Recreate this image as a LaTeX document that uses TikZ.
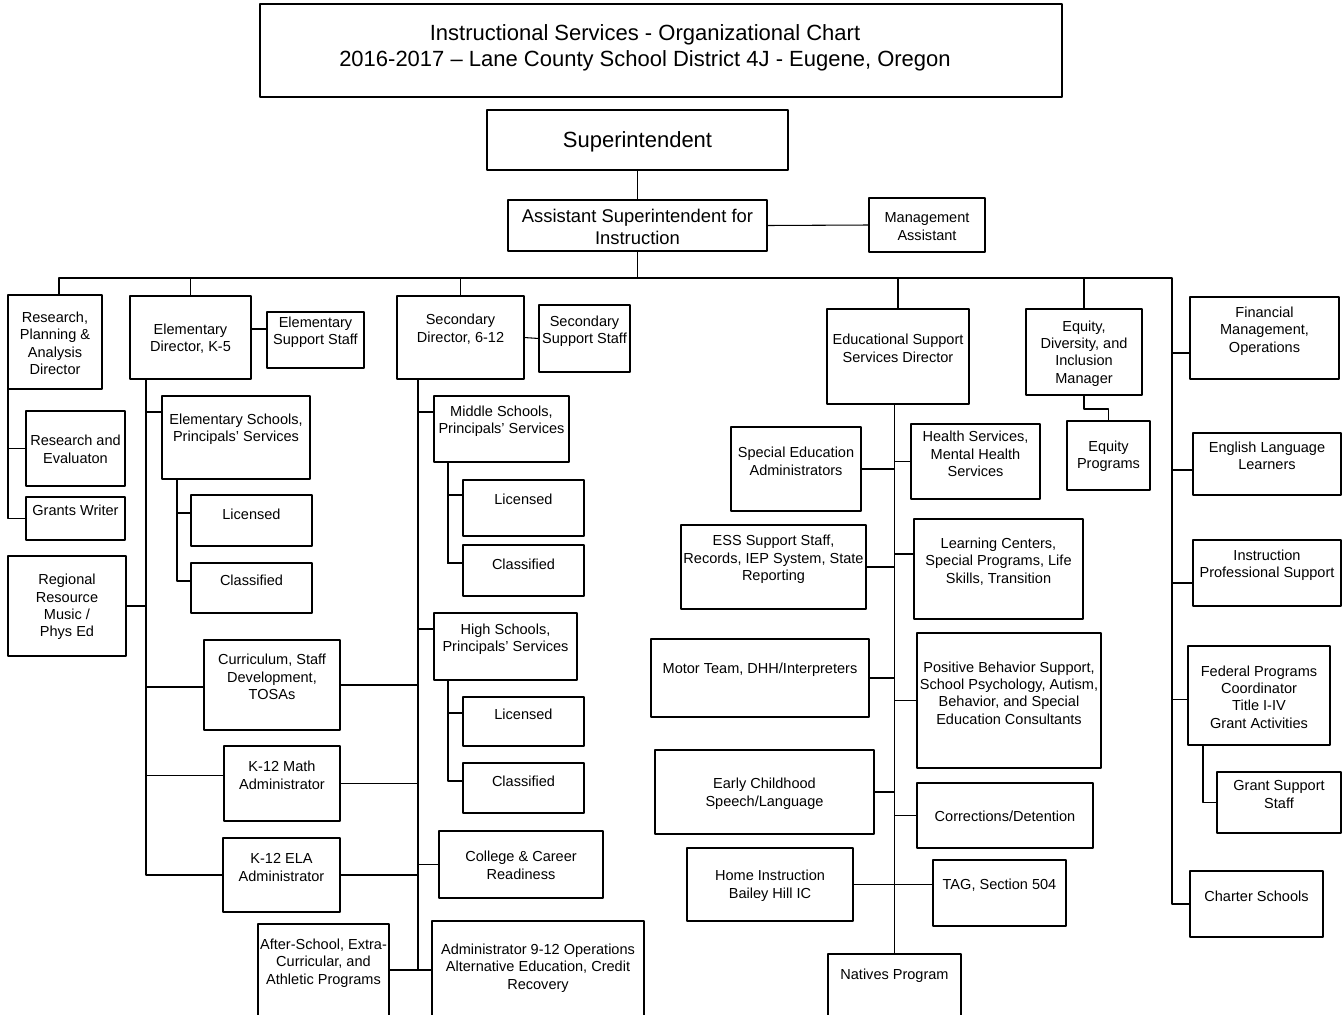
\documentclass[tikz,border=0pt]{standalone}
\usepackage{fontspec}
\setmainfont{Liberation Sans}
\usetikzlibrary{calc}

\begin{document}
\begin{tikzpicture}[x=0.75pt, y=-0.75pt, line join=round, font=\fontsize{10.9}{13.1}\selectfont]
	\tikzset{box/.style={draw, line width=0.9pt, inner sep=0pt, outer sep=0pt},
		txt/.style={align=center, inner sep=0pt},
		link/.style={line width=0.8pt}}
	% box: name, left, top, right, bottom, text centre, text
	\def\obox#1#2#3#4#5#6#7{%
		\node[box, minimum width={(#4-#2)*0.75pt}, minimum height={(#5-#3)*0.75pt}] (#1) at ({(#2+#4)/2},{(#3+#5)/2}) {};
		\node[txt] (#1-t) at ({(#2+#4)/2},{#6+2}) {#7};}
	% branch from a box side to a trunk
	\def\twig#1#2#3{\path ($(#1)+(0,#2)$) coordinate (p); \draw[link] (p) -- (p -| #3);}
	\useasboundingbox (0,0) rectangle (1342,1014);

	\begin{scope}[font=\fontsize{16.5}{19.5}\selectfont]
		\node[box, minimum width=601.5pt, minimum height=69.75pt] (title) at (661,50.5) {};
		\node[txt] (title-t) at (645,48) {Instructional Services - Organizational Chart\\2016-2017 -- Lane County School District 4J - Eugene, Oregon};
		\obox{sup}{487}{110}{788}{170}{140}{Superintendent}
	\end{scope}
	\begin{scope}[font=\fontsize{13.8}{16.5}\selectfont]
		\obox{asi}{508}{200}{767}{251}{225}{Assistant Superintendent for\\Instruction}
	\end{scope}
	\obox{mga}{869}{198}{985}{252}{224.5}{Management\\Assistant}

	% research and elementary
	\obox{rpa}{8}{295}{102}{389}{341.5}{Research,\\Planning \&\\Analysis\\Director}
	\obox{rae}{26}{411}{125}{486}{447.5}{Research and\\Evaluaton}
	\obox{gw}{26}{497}{125}{540}{508}{Grants Writer}
	\obox{rrm}{8}{556}{126}{656}{605}{Regional\\Resource\\Music /\\Phys Ed}
	\obox{ele}{130}{296}{251}{379}{336.5}{Elementary\\Director, K-5}
	\obox{ess}{267}{312}{364}{368}{330}{Elementary\\Support Staff}
	\obox{esp}{162}{396}{310}{479}{427.5}{Elementary Schools,\\Principals' Services}
	\obox{el1}{191}{495}{312}{546}{512}{Licensed}
	\obox{el2}{191}{563}{312}{613}{578}{Classified}
	\obox{csd}{204}{640}{340}{730}{675}{Curriculum, Staff\\Development,\\TOSAs}
	\obox{kma}{224}{746}{340}{821}{773.5}{K-12 Math\\Administrator}
	\obox{kel}{223}{838}{340}{912}{865.5}{K-12 ELA\\Administrator}
	\obox{aft}{258}{924}{389}{1016}{961}{After-School, Extra-\\Curricular, and\\Athletic Programs}

	% secondary
	\obox{sec}{397}{296}{524}{379}{327}{Secondary\\Director, 6-12}
	\obox{sss}{539}{305}{630}{372}{329.5}{Secondary\\Support Staff}
	\obox{msp}{434}{396}{569}{462}{419}{Middle Schools,\\Principals' Services}
	\obox{ml1}{463}{480}{584}{536}{497}{Licensed}
	\obox{ml2}{463}{545}{584}{596}{562}{Classified}
	\obox{hsp}{434}{613}{577}{680}{637}{High Schools,\\Principals' Services}
	\obox{hl1}{463}{697}{584}{746}{712}{Licensed}
	\obox{hl2}{463}{763}{584}{813}{779}{Classified}
	\obox{ccr}{439}{831}{603}{898}{863.5}{College \& Career\\Readiness}
	\obox{a912}{432}{921}{644}{1019}{966}{Administrator 9-12 Operations\\Alternative Education, Credit\\Recovery}

	% educational support services
	\obox{esd}{827}{309}{969}{404}{346.5}{Educational Support\\Services Director}
	\obox{sea}{731}{427}{861}{511}{459.5}{Special Education\\Administrators}
	\obox{hms}{911}{424}{1040}{499}{452}{Health Services,\\Mental Health\\Services}
	\obox{esss}{681}{525}{866}{609}{557.5}{ESS Support Staff,\\Records, IEP System, State\\Reporting}
	\obox{lcs}{914}{519}{1083}{619}{559.5}{Learning Centers,\\Special Programs, Life\\Skills, Transition}
	\obox{mot}{651}{639}{869}{717}{668}{Motor Team, DHH/Interpreters}
	\obox{pbs}{917}{633}{1101}{768}{691}{Positive Behavior Support,\\School Psychology, Autism,\\Behavior, and Special\\Education Consultants}
	\obox{ecs}{655}{750}{874}{834}{791.5}{Early Childhood\\Speech/Language}
	\obox{cor}{917}{783}{1093}{848}{814}{Corrections/Detention}
	\obox{hib}{687}{848}{853}{921}{883.5}{Home Instruction\\Bailey Hill IC}
	\obox{tag}{933}{860}{1066}{926}{883}{TAG, Section 504}
	\obox{nat}{828}{954}{961}{1020}{974}{Natives Program}

	% equity and right column
	\obox{edi}{1026}{309}{1142}{395}{351.5}{Equity,\\Diversity, and\\Inclusion\\Manager}
	\obox{eqp}{1067}{421}{1150}{490}{454}{Equity\\Programs}
	\obox{fin}{1190}{297}{1339}{379}{329}{Financial\\Management,\\Operations}
	\obox{ell}{1193}{433}{1341}{495}{454}{English Language\\Learners}
	\obox{ips}{1193}{540}{1341}{606}{563.5}{Instruction\\Professional Support}
	\obox{fed}{1188}{646}{1330}{745}{695}{Federal Programs\\Coordinator\\Title I-IV\\Grant Activities}
	\obox{gss}{1217}{772}{1341}{833}{792.5}{Grant Support\\Staff}
	\obox{chs}{1190}{871}{1323}{937}{894}{Charter Schools}

	% top of the chart
	\coordinate (busR) at (1172,278);
	\draw[link] (sup.south) -- (asi.north);
	\draw[link] (asi.east) -- (mga.west);
	\draw[link] (asi.south) -- (asi.south |- busR);
	\draw[link] ($(rpa.north)+(4,0)$) |- (busR) |- (chs.west);
	\foreach \n in {ele,sec,esd,edi} \draw[link] (\n.north) -- (\n.north |- busR);

	% research
	\draw[link] (rpa.south west) |- (gw.west);
	\twig{rae.west}{0}{rpa.south west}

	% elementary
	\coordinate (et) at (146,0);
	\coordinate (est) at (177,0);
	\draw[link] (ele.south -| et) |- (kel.west);
	\twig{ess.west}{-11}{ele.east}
	\twig{esp.north west}{16}{et}
	\twig{rrm.east}{0}{et}
	\twig{csd.west}{2}{et}
	\twig{kma.west}{-8}{et}
	\draw[link] (esp.south -| est) |- ($(el2.north west)+(0,18)$);
	\twig{el1.north west}{18}{est}

	% secondary
	\coordinate (st) at (418,0);
	\coordinate (mst) at (448,0);
	\draw[link] (sec.south -| st) |- (a912.west);
	\draw[link] (sec.east) -- (sss.west);
	\twig{msp.north west}{16}{st}
	\twig{hsp.north west}{16}{st}
	\twig{ccr.west}{0}{st}
	\foreach \n in {csd,kma,kel,aft} \twig{\n.east}{0}{st}
	\draw[link] (msp.south -| mst) |- ($(ml2.north west)+(0,18)$);
	\twig{ml1.north west}{15}{mst}
	\draw[link] (hsp.south -| mst) |- ($(hl2.north west)+(0,18)$);
	\twig{hl1.north west}{16}{mst}

	% educational support services
	\draw[link] (esd.south -| nat.north) -- (nat.north);
	\foreach \n in {sea.east,hms.west,esss.east,mot.east,pbs.west,ecs.east,cor.west} \twig{\n}{0}{nat.north}
	\twig{lcs.north west}{35}{nat.north}
	\draw[link] (hib.east) -- (hib.east -| tag.west);

	% equity
	\draw[link] (edi.south) -- ++(0,14) -| (eqp.north);

	% right column
	\twig{fin.west}{15}{busR}
	\twig{ell.west}{6}{busR}
	\twig{ips.west}{10}{busR}
	\twig{fed.west}{4}{busR}
	\coordinate (ft) at (1203,0);
	\draw[link] (fed.south -| ft) |- (gss.west);
\end{tikzpicture}
\end{document}
